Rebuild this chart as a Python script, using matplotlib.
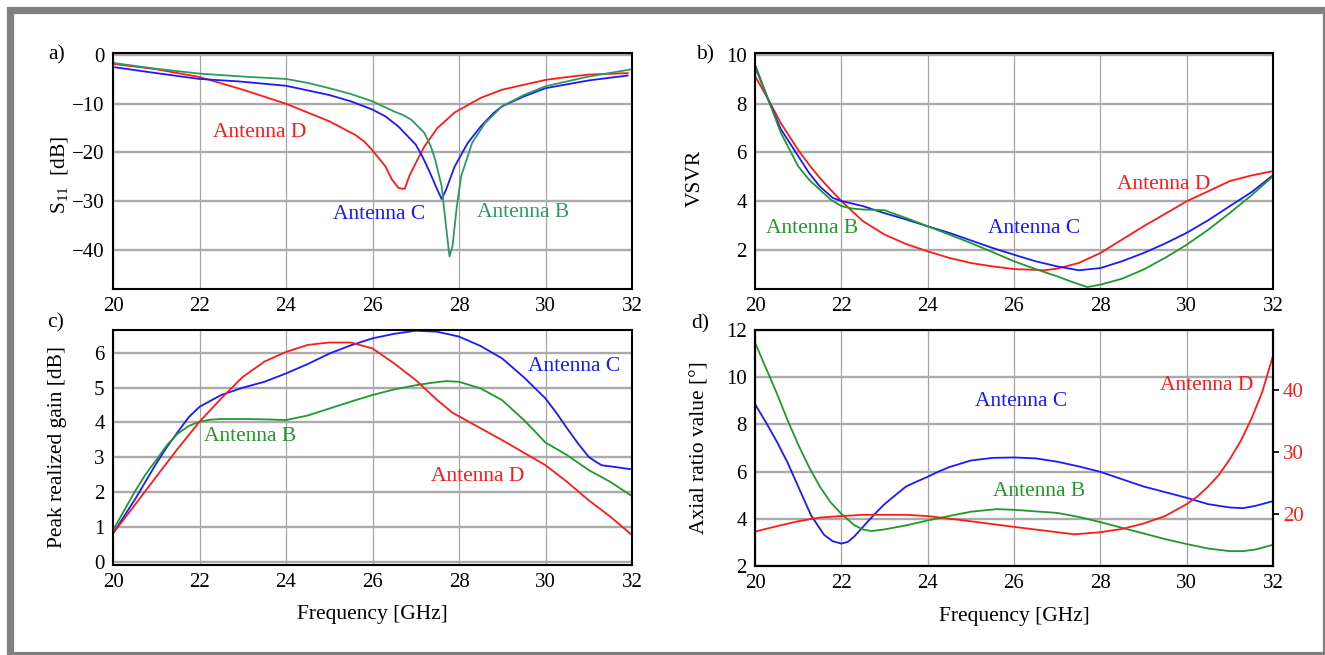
import numpy as np
import matplotlib
matplotlib.use("Agg")
import matplotlib.pyplot as plt
from matplotlib.patches import Rectangle

plt.rcParams["font.family"] = ["Liberation Serif", "DejaVu Serif"]
plt.rcParams["mathtext.fontset"] = "custom"
plt.rcParams["mathtext.rm"] = "Liberation Serif"
plt.rcParams["mathtext.it"] = "Liberation Serif:italic"

RED = "#ff1a1a"
BLUE = "#1a1aff"
SEA = "#2e9a60"
GREEN = "#1f9a2a"

# ---- a) S11 [dB]
s11_d_f = [20, 21, 22, 23, 24, 25, 25.6, 25.8, 26, 26.3, 26.45, 26.6, 26.7, 26.75, 26.85, 27, 27.2, 27.5, 27.9, 28.5, 29, 29.5, 30, 30.5, 31, 31.9]
s11_d = [-1.8, -2.9, -4.5, -7.1, -10, -13.6, -16.4, -17.7, -19.6, -22.9, -25.6, -27.3, -27.5, -27.4, -24.9, -22.2, -18.8, -15, -11.8, -8.8, -7.1, -6.1, -5.1, -4.5, -4.0, -3.7]
s11_c_f = [20.05, 21, 22, 22.9, 24, 25, 25.5, 26, 26.3, 26.6, 27, 27.15, 27.3, 27.5, 27.6, 27.7, 27.9, 28.2, 28.5, 28.8, 29, 29.5, 30, 31, 31.9]
s11_c = [-2.5, -3.7, -4.9, -5.4, -6.3, -8.2, -9.5, -11.2, -12.6, -14.7, -18.4, -20.8, -23.6, -27.7, -29.6, -27.7, -22.9, -18.1, -14.7, -11.9, -10.5, -8.5, -6.8, -5.2, -4.2]
s11_b_f = [20, 21, 22, 23, 24, 24.5, 25, 25.5, 26, 26.5, 26.7, 26.9, 27.2, 27.35, 27.45, 27.6, 27.7, 27.78, 27.85, 27.95, 28.05, 28.3, 28.6, 29, 29.5, 30, 31, 32]
s11_b = [-1.6, -2.8, -3.8, -4.4, -4.9, -5.7, -6.8, -8.0, -9.5, -11.6, -12.3, -13.3, -16, -18.8, -21.5, -27, -35.2, -41.4, -39.3, -31.1, -24.9, -18.1, -14, -10.5, -8.2, -6.4, -4.4, -2.9]

# ---- b) VSWR
vswr_d_f = [20, 20.3, 20.6, 21, 21.25, 21.5, 21.75, 22, 22.25, 22.5, 23, 23.5, 24, 24.5, 25, 25.5, 26, 26.3, 26.7, 27, 27.5, 28, 28.5, 29, 29.5, 30, 30.5, 31, 31.5, 32]
vswr_d = [9.14, 8.2, 7.2, 6.1, 5.5, 4.95, 4.47, 4.0, 3.58, 3.17, 2.62, 2.23, 1.93, 1.66, 1.45, 1.31, 1.2, 1.18, 1.15, 1.22, 1.45, 1.86, 2.41, 2.96, 3.47, 3.99, 4.4, 4.82, 5.05, 5.23]
vswr_c_f = [20, 20.3, 20.6, 21, 21.25, 21.5, 21.8, 22, 22.5, 23, 23.5, 24, 24.5, 25, 25.5, 26, 26.5, 27, 27.5, 28, 28.5, 29, 29.5, 30, 30.5, 31, 31.5, 32]
vswr_c = [9.6, 8.2, 6.95, 5.85, 5.16, 4.6, 4.13, 4.0, 3.79, 3.5, 3.24, 2.96, 2.69, 2.38, 2.07, 1.79, 1.52, 1.31, 1.15, 1.24, 1.52, 1.86, 2.25, 2.69, 3.21, 3.79, 4.36, 5.06]
vswr_b_f = [20, 20.3, 20.6, 21, 21.25, 21.5, 21.75, 22, 22.25, 22.5, 23, 23.5, 24, 24.5, 25, 25.5, 26, 26.5, 27, 27.3, 27.7, 28, 28.5, 29, 29.5, 30, 30.5, 31, 31.5, 32]
vswr_b = [9.5, 8.2, 6.8, 5.43, 4.88, 4.47, 4.06, 3.79, 3.69, 3.65, 3.62, 3.3, 2.96, 2.62, 2.27, 1.9, 1.52, 1.2, 0.9, 0.7, 0.46, 0.56, 0.8, 1.18, 1.66, 2.2, 2.82, 3.51, 4.23, 5.02]

# ---- c) Peak realized gain [dB]
gain_c_f = [20, 20.5, 21, 21.25, 21.5, 21.75, 22, 22.5, 23, 23.5, 24, 24.5, 25, 25.5, 26, 26.5, 27, 27.5, 28, 28.5, 29, 29.5, 30, 30.25, 30.5, 30.75, 31, 31.15, 31.3, 31.6, 32]
gain_c = [0.81, 1.77, 2.82, 3.3, 3.73, 4.15, 4.45, 4.79, 5.0, 5.17, 5.41, 5.68, 5.98, 6.22, 6.42, 6.55, 6.64, 6.61, 6.47, 6.2, 5.84, 5.3, 4.69, 4.28, 3.83, 3.4, 3.01, 2.88, 2.77, 2.72, 2.65]
gain_b_f = [20, 20.25, 20.5, 20.75, 21, 21.25, 21.5, 21.75, 22, 22.25, 22.5, 23, 23.5, 24, 24.5, 25, 25.5, 26, 26.5, 27, 27.3, 27.7, 28, 28.5, 29, 29.5, 29.75, 30, 30.1, 30.5, 31, 31.5, 32]
gain_b = [0.9, 1.45, 2.0, 2.5, 2.92, 3.35, 3.68, 3.9, 4.02, 4.08, 4.1, 4.1, 4.09, 4.07, 4.2, 4.4, 4.6, 4.79, 4.95, 5.07, 5.13, 5.19, 5.17, 4.98, 4.64, 4.07, 3.75, 3.42, 3.35, 3.06, 2.63, 2.29, 1.88]
gain_d_f = [20, 20.5, 21, 21.5, 22, 22.5, 23, 23.5, 24, 24.5, 25, 25.5, 26, 26.5, 27, 27.5, 27.85, 28.3, 29, 30, 30.5, 31, 31.5, 32]
gain_d = [0.81, 1.62, 2.44, 3.25, 4.02, 4.69, 5.31, 5.75, 6.03, 6.23, 6.30, 6.30, 6.13, 5.70, 5.22, 4.64, 4.28, 3.97, 3.49, 2.77, 2.29, 1.76, 1.29, 0.76]

# ---- d) Axial ratio (C, B on left axis; D on right axis)
ar_c_f = [20, 20.25, 20.5, 20.75, 21, 21.3, 21.6, 21.8, 22, 22.15, 22.3, 22.45, 22.6, 22.8, 23, 23.25, 23.5, 23.75, 24, 24.25, 24.5, 25, 25.5, 26, 26.5, 27, 27.5, 28, 29, 30, 30.5, 31, 31.3, 31.6, 32]
ar_c = [8.86, 8.1, 7.29, 6.4, 5.37, 4.14, 3.32, 3.05, 2.95, 3.02, 3.25, 3.55, 3.86, 4.25, 4.62, 5.0, 5.37, 5.58, 5.78, 6.0, 6.19, 6.47, 6.58, 6.6, 6.56, 6.42, 6.22, 5.99, 5.37, 4.89, 4.62, 4.48, 4.45, 4.55, 4.75]
ar_b_f = [20, 20.25, 20.5, 20.75, 21, 21.25, 21.5, 21.75, 22, 22.3, 22.5, 22.7, 23, 23.5, 24, 24.5, 25, 25.6, 26, 27, 27.5, 28, 28.5, 29, 29.5, 30, 30.5, 31, 31.3, 31.6, 32]
ar_b = [11.47, 10.4, 9.34, 8.2, 7.15, 6.2, 5.37, 4.7, 4.21, 3.73, 3.55, 3.48, 3.55, 3.72, 3.93, 4.12, 4.3, 4.41, 4.38, 4.25, 4.08, 3.86, 3.62, 3.38, 3.14, 2.93, 2.74, 2.63, 2.63, 2.7, 2.9]
ar_d_f = [20, 20.5, 21, 21.5, 22, 22.5, 23, 23.5, 24, 25, 26, 27, 27.4, 28, 28.5, 29, 29.5, 30, 30.25, 30.5, 30.75, 31, 31.25, 31.5, 31.75, 32]
ar_d = [17.14, 18.0, 18.8, 19.4, 19.64, 19.84, 19.84, 19.84, 19.64, 18.8, 17.9, 17.04, 16.7, 17.04, 17.56, 18.44, 19.64, 21.56, 22.8, 24.4, 26.3, 28.8, 31.7, 35.3, 39.6, 45.45]

freq_ticks = [20, 22, 24, 26, 28, 30, 32]

W, H = 1325, 655
fig = plt.figure(figsize=(W / 100, H / 100), dpi=100)

# grey frame around the whole figure
fig.add_artist(Rectangle((9.5 / W, 0.5 / H), (1325.5 - 9.5) / W, (655 - 10) / H, transform=fig.transFigure,
                         fill=False, edgecolor="#808080", linewidth=5.2, zorder=0))


def box(x0, y0, x1, y1):
    return [x0 / W, 1 - y1 / H, (x1 - x0) / W, (y1 - y0) / H]


def style(ax, yticks, ylim):
    ax.set_xlim(20, 32)
    ax.set_ylim(*ylim)
    ax.set_xticks(freq_ticks)
    ax.set_yticks(yticks)
    ax.yaxis.grid(True, color="#ababab", linewidth=1.7)
    ax.xaxis.grid(True, color="#a5a5a5", linewidth=0.9)
    ax.set_axisbelow(True)
    ax.tick_params(length=0, labelsize=15, pad=6)
    for s in ax.spines.values():
        s.set_linewidth(1.5)
        s.set_color("black")


lw = 1.3
fs = 15.5

# a)
ax = fig.add_axes(box(113, 52.7, 632, 288.5))
style(ax, [0, -10, -20, -30, -40], (-48, 0.5))
ax.plot(s11_d_f, s11_d, color=RED, lw=lw)
ax.plot(s11_c_f, s11_c, color=BLUE, lw=lw)
ax.plot(s11_b_f, s11_b, color=SEA, lw=lw)
ax.text(23.4, -16, "Antenna D", color=RED, fontsize=fs, ha="center", va="center")
ax.text(26.15, -32.7, "Antenna C", color=BLUE, fontsize=fs, ha="center", va="center")
ax.text(29.47, -32.3, "Antenna B", color=SEA, fontsize=fs, ha="center", va="center")
ax.set_ylabel(r"S$_{\mathregular{11}}$  [dB]", fontsize=fs)
ax.yaxis.set_label_coords(-0.083, 0.48)

# b)
ax = fig.add_axes(box(755, 52.7, 1273, 289))
style(ax, [2, 4, 6, 8, 10], (0.38, 10.1))
ax.plot(vswr_d_f, vswr_d, color=RED, lw=lw)
ax.plot(vswr_c_f, vswr_c, color=BLUE, lw=lw)
ax.plot(vswr_b_f, vswr_b, color=GREEN, lw=lw)
ax.text(29.46, 4.68, "Antenna D", color=RED, fontsize=fs, ha="center", va="center")
ax.text(26.46, 2.88, "Antenna C", color=BLUE, fontsize=fs, ha="center", va="center")
ax.text(21.32, 2.85, "Antenna B", color=GREEN, fontsize=fs, ha="center", va="center")
ax.set_ylabel("VSVR", fontsize=fs)
ax.yaxis.set_label_coords(-0.097, 0.47)

# c)
ax = fig.add_axes(box(113, 330, 632, 565))
style(ax, [0, 1, 2, 3, 4, 5, 6], (-0.1, 6.66))
ax.plot(gain_c_f, gain_c, color=BLUE, lw=lw)
ax.plot(gain_b_f, gain_b, color=GREEN, lw=lw)
ax.plot(gain_d_f, gain_d, color=RED, lw=lw)
ax.text(30.66, 5.6, "Antenna C", color=BLUE, fontsize=fs, ha="center", va="center")
ax.text(23.18, 3.59, "Antenna B", color=GREEN, fontsize=fs, ha="center", va="center")
ax.text(28.44, 2.44, "Antenna D", color=RED, fontsize=fs, ha="center", va="center")
ax.set_ylabel("Peak realized gain [dB]", fontsize=fs)
ax.yaxis.set_label_coords(-0.089, 0.5)
ax.set_xlabel("Frequency [GHz]", fontsize=fs)
ax.xaxis.set_label_coords(0.5, -0.17)

# d)
ax = fig.add_axes(box(755, 330, 1273, 566))
style(ax, [2, 4, 6, 8, 10, 12], (2, 12))
ax.plot(ar_c_f, ar_c, color=BLUE, lw=lw)
ax.plot(ar_b_f, ar_b, color=GREEN, lw=lw)
ax.text(26.17, 8.96, "Antenna C", color=BLUE, fontsize=fs, ha="center", va="center")
ax.text(26.57, 5.14, "Antenna B", color=GREEN, fontsize=fs, ha="center", va="center")
ax.set_ylabel("Axial ratio value [°]", fontsize=fs)
ax.yaxis.set_label_coords(-0.087, 0.5)
ax.set_xlabel("Frequency [GHz]", fontsize=fs)
ax.xaxis.set_label_coords(0.5, -0.175)
ax2 = ax.twinx()
ax2.set_ylim(11.6, 49.6)
ax2.set_yticks([20, 30, 40])
ax2.tick_params(axis="y", length=4, width=1.2, colors="black", labelcolor=RED, labelsize=15, pad=3)
ax2.plot(ar_d_f, ar_d, color=RED, lw=lw)
ax2.text(30.47, 40.7, "Antenna D", color=RED, fontsize=fs, ha="center", va="center")
for s in ax2.spines.values():
    s.set_linewidth(1.5)

# panel letters
for lbl, px, py in [("a)", 57, 55), ("b)", 705, 55), ("c)", 56, 323), ("d)", 700, 324)]:
    fig.text(px / W, 1 - py / H, lbl, fontsize=fs, ha="center", va="center")

fig.savefig("out.png", dpi=100)
